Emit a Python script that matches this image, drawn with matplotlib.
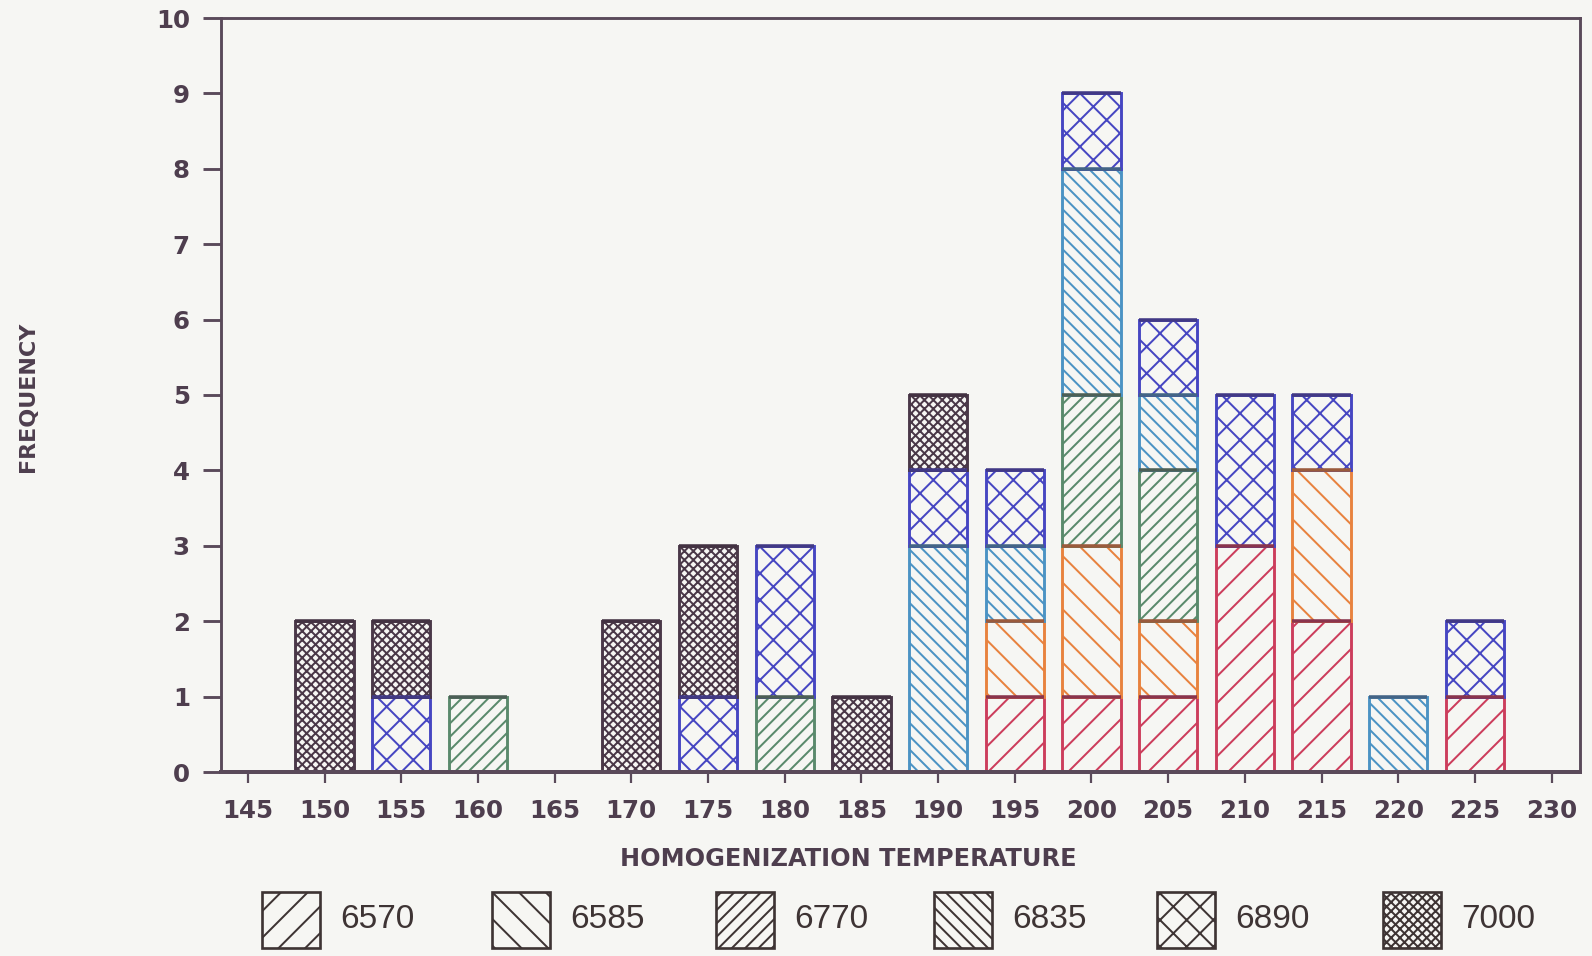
import matplotlib
matplotlib.use('Agg')
import matplotlib.pyplot as plt
import matplotlib.colors as mcolors
import numpy as np
from matplotlib.patches import Rectangle

# ---- data ----
temps = [145, 150, 155, 160, 165, 170, 175, 180, 185, 190, 195, 200, 205, 210, 215, 220, 225, 230]
s6570 = [0, 0, 0, 0, 0, 0, 0, 0, 0, 0, 1, 1, 1, 3, 2, 0, 1, 0]
s6585 = [0, 0, 0, 0, 0, 0, 0, 0, 0, 0, 1, 2, 1, 0, 2, 0, 0, 0]
s6770 = [0, 0, 0, 1, 0, 0, 0, 1, 0, 0, 0, 2, 2, 0, 0, 0, 0, 0]
s6835 = [0, 0, 0, 0, 0, 0, 0, 0, 0, 3, 1, 3, 1, 0, 0, 1, 0, 0]
s6890 = [0, 0, 1, 0, 0, 0, 1, 2, 0, 1, 1, 1, 1, 2, 1, 0, 1, 0]
s7000 = [0, 2, 1, 0, 0, 2, 2, 0, 1, 1, 0, 0, 0, 0, 0, 0, 0, 0]
series_names = ['6570', '6585', '6770', '6835', '6890', '7000']
series_vals = [s6570, s6585, s6770, s6835, s6890, s7000]
y_ticks = list(range(0, 11))

# ---- styles ----
colors = ['#cc3d5c', '#e8823e', '#5a8a6c', '#4b93c4', '#4646c2', '#4a3848']
hatches = ['//', '\\\\', '////', '\\\\\\\\', 'xx', 'xxxxxx']
bg = '#f6f6f3'
txt = '#4e3e4e'
spine_c = '#5a4a5a'


def darken(c, f=0.45):
    a = np.array(mcolors.to_rgb(c))
    b = np.array(mcolors.to_rgb('#3a2a3a'))
    return tuple(a * (1 - f) + b * f)


DPI = 160
plt.rcParams['hatch.linewidth'] = 0.9
fig = plt.figure(figsize=(1592 / DPI, 956 / DPI), dpi=DPI, facecolor=bg)
ax = fig.add_axes([221 / 1592, 1 - 772 / 956, (1580 - 221) / 1592, (772 - 18) / 956])
ax.set_facecolor(bg)

x = np.arange(len(temps))
bottom = np.zeros(len(temps))
width = 0.76
for name, vals, c, h in zip(series_names, series_vals, colors, hatches):
    v = np.array(vals, dtype=float)
    m = v > 0
    ax.bar(x[m], v[m], width=width, bottom=bottom[m], facecolor=bg,
           edgecolor=c, hatch=h, linewidth=1.3, zorder=2)
    ax.hlines((bottom + v)[m], x[m] - width / 2, x[m] + width / 2,
              color=darken(c), linewidth=1.6, zorder=3)
    bottom += v

ax.set_xlim(-0.35, 17.37)
ax.set_ylim(0, 10)
ax.set_xticks(x)
ax.set_xticklabels([str(t) for t in temps])
ax.set_yticks(y_ticks)
ax.set_yticklabels([str(t) for t in y_ticks])

for s in ax.spines.values():
    s.set_color(spine_c)
    s.set_linewidth(1.3)
ax.spines['bottom'].set_linewidth(1.8)
ax.spines['bottom'].set_zorder(4)

ax.tick_params(axis='y', direction='out', length=8, width=1.3, color=spine_c,
               labelsize=11, labelcolor=txt, pad=6)
ax.tick_params(axis='x', direction='out', length=5, width=1.0, color=spine_c,
               labelsize=11, labelcolor=txt, pad=7)
for lab in ax.get_xticklabels() + ax.get_yticklabels():
    lab.set_fontweight('bold')

fig.text(848 / 1592, 1 - 859 / 956, 'HOMOGENIZATION TEMPERATURE', ha='center', va='center',
         fontsize=10.8, fontweight='bold', color=txt)
fig.text(28 / 1592, 1 - 397 / 956, 'FREQUENCY', ha='center', va='center', rotation=90,
         fontsize=10, fontweight='bold', color=txt)

# ---- legend ----
leg_x = [262, 492, 716, 934, 1157, 1383]
pw, ph = 58, 56
py = 892
for lx, name, h in zip(leg_x, series_names, hatches):
    r = Rectangle((lx / 1592, 1 - (py + ph) / 956), pw / 1592, ph / 956,
                  transform=fig.transFigure, facecolor=bg, edgecolor='#3e3434',
                  hatch=h, linewidth=1.2)
    fig.patches.append(r)
    fig.text((lx + pw + 20) / 1592, 1 - 919 / 956, name, ha='left', va='center',
             fontsize=15, color='#3e3434',
             family=['Liberation Sans Narrow', 'Liberation Sans', 'DejaVu Sans'])

fig.savefig('out.png', dpi=DPI, facecolor=bg)
